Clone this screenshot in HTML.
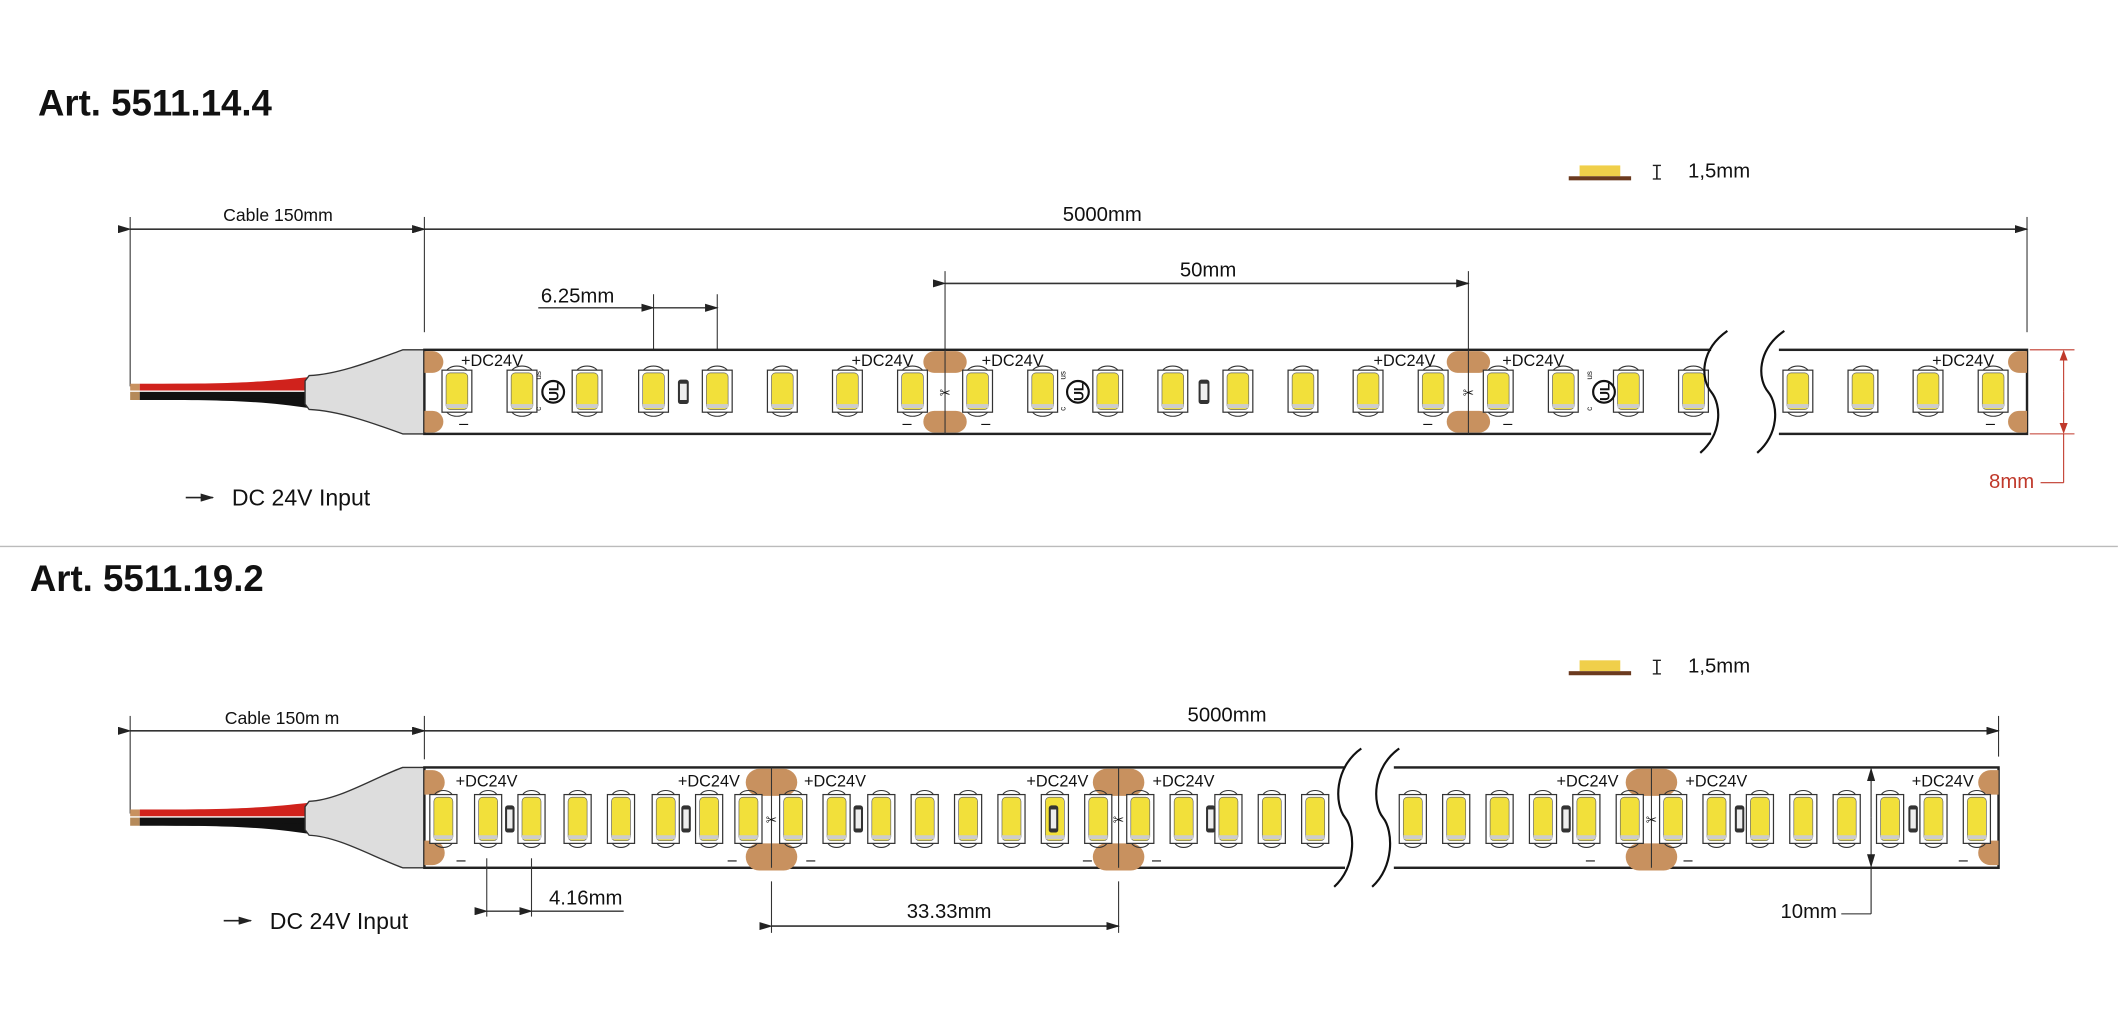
<!DOCTYPE html>
<html><head><meta charset="utf-8"><style>
html,body{margin:0;padding:0;background:#fff;}
svg{display:block;}
text{font-family:"Liberation Sans Narrow","Liberation Sans",sans-serif;fill:#111;}
</style></head><body>
<svg id="s" width="2126" height="1021" viewBox="0 0 1568 753" preserveAspectRatio="none" xmlns="http://www.w3.org/2000/svg">
<defs>
<marker id="a" markerWidth="10" markerHeight="6" refX="9" refY="3" orient="auto" markerUnits="userSpaceOnUse"><path d="M0,0 L10,3 L0,6Z" fill="#222"/></marker>
<marker id="ar" markerWidth="8" markerHeight="8" refX="7" refY="4" orient="auto" markerUnits="userSpaceOnUse"><path d="M0,1 L8,4 L0,7Z" fill="#c0392b"/></marker>
</defs>
<rect width="1568" height="753" fill="#fff"/>
<text x="28" y="85" style="font-family:'Liberation Sans',sans-serif;font-weight:bold;font-size:27px">Art. 5511.14.4</text>
<text x="22" y="436" style="font-family:'Liberation Sans',sans-serif;font-weight:bold;font-size:27px">Art. 5511.19.2</text>
<line x1="0" y1="403" x2="1562" y2="403" stroke="#bbb" stroke-width="1"/>
<g id="g"></g>
</svg>
<script>
const g=document.getElementById('g');
let h='';
function L(x1,y1,x2,y2,s,w,extra){h+=`<line x1="${x1}" y1="${y1}" x2="${x2}" y2="${y2}" stroke="${s||'#222'}" stroke-width="${w||1}" ${extra||''}/>`;}
function T(x,y,t,sz,anchor,fill){h+=`<text x="${x}" y="${y}" font-size="${sz}" text-anchor="${anchor||'start'}" ${fill?`style="fill:${fill}"`:''}>${t}</text>`;}
function dim(x1,x2,y){L(x1,y,x2,y,'#333',1.2,'marker-start="url(#a)" marker-end="url(#a)"');}
function legend(y){h+=`<rect x="1165" y="${y-8}" width="30" height="8" fill="#f0cf4a"/><rect x="1157" y="${y}" width="46" height="3" fill="#6b3a1f"/>`;
 L(1222,y-8,1222,y+2,'#222',1.2);L(1219,y-8,1225,y-8);L(1219,y+2,1225,y+2);T(1245,y+1,'1,5mm',15);}
function led(cx,top,w,hh){let x=cx-w/2;
 h+=`<path d="M${x+3},${top+4} a${w/2-3},5 0 0 1 ${w-6},0" fill="none" stroke="#333" stroke-width="0.8"/>`;
 h+=`<path d="M${x+3},${top+hh-4} a${w/2-3},5 0 0 0 ${w-6},0" fill="none" stroke="#333" stroke-width="0.8"/>`;
 h+=`<rect x="${x}" y="${top+2}" width="${w}" height="${hh-4}" fill="#fff" stroke="#333" stroke-width="0.9"/>`;
 h+=`<rect x="${x+3}" y="${top+4}" width="${w-6}" height="${hh-8}" rx="3" fill="#f2e03a" stroke="#666" stroke-width="0.5"/>`;
 h+=`<rect x="${x+3}" y="${top+hh-8}" width="${w-6}" height="3" fill="#ccc"/>`;}
function res(cx,cy,w,hh){h+=`<rect x="${cx-w/2}" y="${cy-hh/2}" width="${w}" height="${hh}" rx="2" fill="#333"/><rect x="${cx-w/2+1.5}" y="${cy-hh/2+3}" width="${w-3}" height="${hh-6}" fill="#eee"/>`;}
function pad(cx,cy,w,hh){h+=`<rect x="${cx-w/2}" y="${cy-hh/2}" width="${w}" height="${hh}" rx="${hh/2}" fill="#c8915f"/>`;}
function ul(cx,cy){h+=`<circle cx="${cx}" cy="${cy}" r="8" fill="#fff" stroke="#111" stroke-width="1.6"/><text x="${cx}" y="${cy+4}" font-size="10" text-anchor="middle" transform="rotate(-90 ${cx} ${cy})" style="font-weight:bold">UL</text><text x="${cx-9}" y="${cy+14}" font-size="6" transform="rotate(-90 ${cx-9} ${cy+14})">c</text><text x="${cx-9}" y="${cy-9}" font-size="6" transform="rotate(-90 ${cx-9} ${cy-9})">us</text>`;}
function conn(yT,yB,ym){
 h+=`<rect x="103" y="${ym-6}" width="125" height="5" fill="#d0221c"/><rect x="103" y="${ym}" width="125" height="6" fill="#111"/>`;
 h+=`<path d="M120,${ym-6} C180,${ym-6} 200,${ym-8} 228,${ym-11} L228,${ym-4} Z" fill="#d0221c"/>`;
 h+=`<path d="M120,${ym+6} C180,${ym+6} 200,${ym+8} 228,${ym+12} L228,${ym+4} Z" fill="#111"/>`;
 h+=`<rect x="96" y="${ym-6}" width="7" height="5" fill="#c8915f"/><rect x="96" y="${ym}" width="7" height="6" fill="#b58a5a"/>`;
 h+=`<path d="M313,${yT} L297,${yT} C275,${yT+8} 250,${ym-13} 228,${ym-12} L225,${ym-8} L225,${ym+9} L228,${ym+13} C250,${ym+14} 275,${yB-8} 297,${yB} L313,${yB} Z" fill="#ddd" stroke="#333" stroke-width="1"/>`;}
function brk(xa,xb,yT,yB){
 h+=`<rect x="${xa}" y="${yT-2}" width="${xb-xa+8}" height="${yB-yT+4}" fill="#fff"/>`;
 let m=(yT+yB)/2, e=14;
 [xa,xb].forEach(x=>{h+=`<path d="M${x+12},${yT-e} C${x-8},${yT} ${x-8},${m-10} ${x},${m} C${x+8},${m+10} ${x+8},${yB} ${x-8},${yB+e}" fill="none" stroke="#111" stroke-width="1.6"/>`;});}
function scis(x,y){T(x,y,'✂',10,'middle');}

legend(130);
L(96,160,96,285,'#333',0.8);L(313,160,313,245,'#333',0.8);L(1495,160,1495,245,'#333',0.8);
dim(96,313,169);dim(313,1495,169);
T(205,163,'Cable 150mm',13,'middle');T(813,163,'5000mm',15,'middle');
L(697,200,697,320,'#333',0.8);L(1083,200,1083,320,'#333',0.8);dim(697,1083,209);T(891,204,'50mm',15,'middle');
L(482,217,482,268,'#333',0.8);L(529,217,529,268,'#333',0.8);L(397,227,482,227,'#333',1);L(482,227,529,227,'#333',1,'marker-start="url(#a)" marker-end="url(#a)"');T(426,223,'6.25mm',15,'middle');
conn(258,320,289);
h+=`<rect x="313" y="258" width="1182" height="62" fill="#fff" stroke="#222" stroke-width="1.8"/>`;
[[313,'L'],[1495,'R']].forEach(([x,s])=>{h+=`<path d="M${x},259 h${s=='L'?6:-6} a8,8 0 0 ${s=='L'?1:0} 0,16 h${s=='L'?-6:6}z" fill="#c8915f"/><path d="M${x},303 h${s=='L'?6:-6} a8,8 0 0 ${s=='L'?1:0} 0,16 h${s=='L'?-6:6}z" fill="#c8915f"/>`;});
[697,1083].forEach(x=>{pad(x,267,32,16);pad(x,311,32,16);L(x,258,x,320,'#333',0.8);scis(x,293);});
[337,385,433,482,529,577,625,673,721,769,817,865,913,961,1009,1057,1105,1153,1201,1249,1326,1374,1422,1470].forEach(c=>led(c,271,22,35));
res(504,289,8,18);res(888,289,8,18);ul(408,289);ul(795,289);ul(1183,289);
[340,628,724,1013,1108,1425].forEach(x=>T(x,270,'+DC24V',12));
[342,669,727,1053,1112,1468].forEach(x=>T(x,316,'–',12,'middle'));
brk(1262,1304,258,320);
L(1497,258,1530,258,'#c0392b',0.8);L(1497,320,1530,320,'#c0392b',0.8);
L(1522,289,1522,259,'#c0392b',0.8,'marker-end="url(#ar)"');L(1522,289,1522,319,'#c0392b',0.8,'marker-end="url(#ar)"');
L(1522,320,1522,356,'#c0392b',0.8);L(1505,356,1522,356,'#c0392b',0.8);T(1467,360,'8mm',15,'start','#c0392b');
L(137,367,157,367,'#222',1.2,'marker-end="url(#a)"');T(171,373,'DC 24V Input',17);

legend(495);
L(96,528,96,600,'#333',0.8);L(313,528,313,560,'#333',0.8);L(1474,528,1474,558,'#333',0.8);
dim(96,313,539);dim(313,1474,539);
T(208,534,'Cable 150m m',13,'middle');T(905,532,'5000mm',15,'middle');
conn(566,640,603);
h+=`<rect x="313" y="566" width="1161" height="74" fill="#fff" stroke="#222" stroke-width="1.8"/>`;
[[313,'L'],[1474,'R']].forEach(([x,s])=>{h+=`<path d="M${x},568 h${s=='L'?6:-6} a9,9 0 0 ${s=='L'?1:0} 0,18 h${s=='L'?-6:6}z" fill="#c8915f"/><path d="M${x},620 h${s=='L'?6:-6} a9,9 0 0 ${s=='L'?1:0} 0,18 h${s=='L'?-6:6}z" fill="#c8915f"/>`;});
[569,825,1218].forEach(x=>{pad(x,577,38,20);pad(x,632,38,20);L(x,566,x,640,'#333',0.8);scis(x,608);});
[327,360,392,426,458,491,523,552,585,617,650,682,714,746,778,810,841,873,906,938,970,1042,1074,1106,1138,1170,1202,1234,1266,1298,1330,1362,1394,1426,1458].forEach(c=>led(c,584,20,40));
[376,506,633,777,893,1155,1283,1411].forEach(x=>res(x,604,7,20));
[336,500,593,757,850,1148,1243,1410].forEach(x=>T(x,580,'+DC24V',12));
[340,540,598,802,853,1173,1245,1448].forEach(x=>T(x,638,'–',12,'middle'));
brk(992,1020,566,640);
L(359,633,359,676,'#333',0.8);L(392,633,392,676,'#333',0.8);L(359,672,392,672,'#333',1,'marker-start="url(#a)" marker-end="url(#a)"');L(392,672,460,672,'#333',1);T(432,667,'4.16mm',15,'middle');
L(569,650,569,688,'#333',0.8);L(825,650,825,688,'#333',0.8);dim(569,825,683);T(700,677,'33.33mm',15,'middle');
L(1380,603,1380,567,'#222',0.8,'marker-end="url(#a)"');L(1380,603,1380,639,'#222',0.8,'marker-end="url(#a)"');L(1380,640,1380,674,'#222',0.8);L(1358,674,1380,674,'#222',0.8);T(1334,677,'10mm',15,'middle');
L(165,679,185,679,'#222',1.2,'marker-end="url(#a)"');T(199,685,'DC 24V Input',17);
g.innerHTML=h;
</script>
</body></html>
